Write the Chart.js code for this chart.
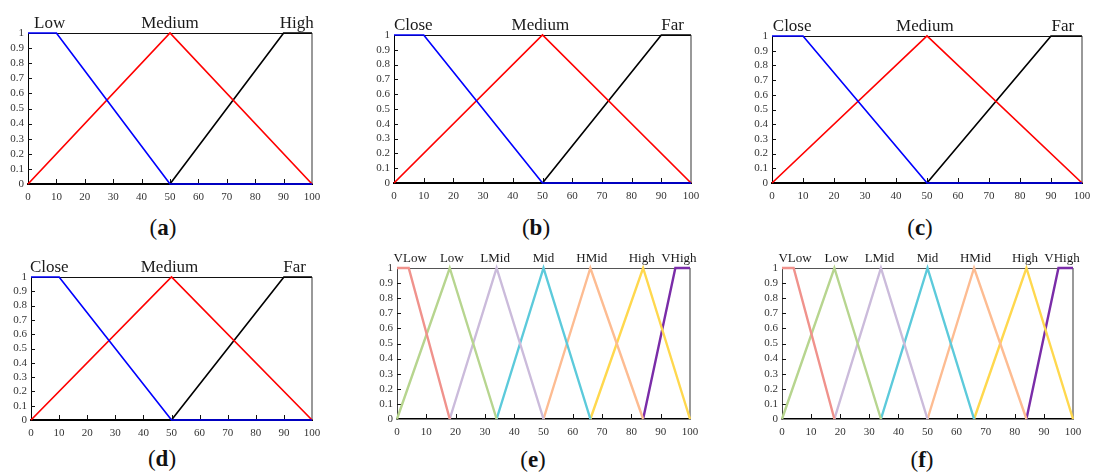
<!DOCTYPE html>
<html>
<head>
<meta charset="utf-8">
<script src="https://cdn.jsdelivr.net/npm/chart.js@4.4.0/dist/chart.umd.min.js"></script>
<style>
  html, body { margin: 0; padding: 0; background: #fff; overflow: hidden; }
  body { width: 1093px; height: 475px; position: relative; font-family: 'Liberation Serif', serif; }
  canvas { position: absolute; }
  .cap { position: absolute; font-size: 23px; color: #111; transform: translate(-50%, -50%); white-space: nowrap; }
</style>
</head>
<body>
<script>
// axis ticks
const xTicks = [0, 10, 20, 30, 40, 50, 60, 70, 80, 90, 100];
const yTicks = [0, 0.1, 0.2, 0.3, 0.4, 0.5, 0.6, 0.7, 0.8, 0.9, 1];

// three-set membership functions (a)-(d)
const lowX = [0, 10, 50, 100];
const lowY = [1, 1, 0, 0];
const medX = [0, 50, 100];
const medY = [0, 1, 0];
const highX = [0, 50, 90, 100];
const highY = [0, 0, 1, 1];

const names3a = ['Low', 'Medium', 'High'];
const names3b = ['Close', 'Medium', 'Far'];
const namePos3a = [7.6, 50, 94.6];
const namePos3b = [6.5, 49.3, 93.8];

// seven-set membership functions (e), (f)
const vlowX = [0, 4, 18];
const vlowY = [1, 1, 0];
const low7X = [0, 18, 34];
const low7Y = [0, 1, 0];
const lmidX = [18, 34, 50];
const lmidY = [0, 1, 0];
const midX = [34, 50, 66];
const midY = [0, 1, 0];
const hmidX = [50, 66, 84];
const hmidY = [0, 1, 0];
const high7X = [66, 84, 100];
const high7Y = [0, 1, 0];
const vhighX = [84, 95, 100];
const vhighY = [0, 1, 1];

const names7 = ['VLow', 'Low', 'LMid', 'Mid', 'HMid', 'High', 'VHigh'];
const namePos7 = [4.5, 18.7, 33.5, 50, 66.5, 83.5, 96.2];

const colors3 = ['#0000ff', '#ff0000', '#000000'];
const colors7 = ['#f0928c', '#b7d58f', '#cbbbdb', '#5ccadb', '#fdbc92', '#ffd84e', '#7a2ca8'];

function pts(xs, ys) { return xs.map((x, i) => ({ x, y: ys[i] })); }

const sets3 = [pts(lowX, lowY), pts(medX, medY), pts(highX, highY)];
const sets7 = [pts(vlowX, vlowY), pts(low7X, low7Y), pts(lmidX, lmidY), pts(midX, midY),
               pts(hmidX, hmidY), pts(high7X, high7Y), pts(vhighX, vhighY)];

// plot-area boxes in page pixels and caption centres
const panels = [
  { id: 'a', box: [28, 33, 312, 184], cap: [163, 228], sets: sets3, colors: colors3, names: names3a, pos: namePos3a, big: true },
  { id: 'b', box: [394, 35, 691, 183], cap: [536, 228], sets: sets3, colors: colors3, names: names3b, pos: namePos3b, big: true },
  { id: 'c', box: [772, 36, 1082, 183], cap: [920, 228], sets: sets3, colors: colors3, names: names3b, pos: namePos3b, big: true },
  { id: 'd', box: [31, 277, 312, 420], cap: [162, 459], sets: sets3, colors: colors3, names: names3b, pos: namePos3b, big: true },
  { id: 'e', box: [397, 268, 690, 419], cap: [533, 460], sets: sets7, colors: colors7, names: names7, pos: namePos7, big: false },
  { id: 'f', box: [782, 268, 1073, 419], cap: [922, 460], sets: sets7, colors: colors7, names: names7, pos: namePos7, big: false }
];

const PAD_L = 30, PAD_T = 30, PAD_R = 20, PAD_B = 25;
const FONT = "'Liberation Serif', serif";

const framePlugin = {
  id: 'frame',
  beforeDatasetsDraw(chart, args, opts) {
    const { ctx, chartArea: a, scales: { x, y } } = chart;
    ctx.save();
    ctx.lineWidth = 1;
    ctx.strokeStyle = opts.topColor;
    ctx.beginPath();
    ctx.moveTo(a.left, a.top + 0.5);
    ctx.lineTo(a.right, a.top + 0.5);
    ctx.stroke();
    ctx.lineWidth = 1.5;
    ctx.strokeStyle = '#777';
    ctx.beginPath();
    ctx.moveTo(a.right, a.top);
    ctx.lineTo(a.right, a.bottom);
    ctx.stroke();
    // inward tick marks
    ctx.lineWidth = 1;
    ctx.strokeStyle = '#111';
    ctx.beginPath();
    x.ticks.forEach(t => {
      if (t.value <= 0 || t.value >= 100) return;
      const px = Math.round(x.getPixelForValue(t.value)) + 0.5;
      ctx.moveTo(px, a.bottom);
      ctx.lineTo(px, a.bottom - 5);
    });
    y.ticks.forEach(t => {
      if (t.value <= 0 || t.value >= 1) return;
      const py = Math.round(y.getPixelForValue(t.value)) + 0.5;
      ctx.moveTo(a.left, py);
      ctx.lineTo(a.left + 4, py);
    });
    ctx.stroke();
    ctx.restore();
  },
  afterDraw(chart, args, opts) {
    const { ctx, chartArea: a, scales: { x } } = chart;
    ctx.save();
    ctx.fillStyle = '#1a1a1a';
    ctx.font = opts.size + 'px ' + FONT;
    ctx.textAlign = 'center';
    ctx.textBaseline = 'alphabetic';
    opts.names.forEach((n, i) => {
      ctx.fillText(n, x.getPixelForValue(opts.pos[i]), a.top - opts.gap);
    });
    ctx.restore();
  }
};

panels.forEach(p => {
  const [l, t, r, b] = p.box;
  const cv = document.createElement('canvas');
  cv.width = r - l + PAD_L + PAD_R;
  cv.height = b - t + PAD_T + PAD_B;
  cv.style.left = (l - PAD_L) + 'px';
  cv.style.top = (t - PAD_T) + 'px';
  document.body.appendChild(cv);

  const cap = document.createElement('div');
  cap.className = 'cap';
  cap.style.left = p.cap[0] + 'px';
  cap.style.top = p.cap[1] + 'px';
  cap.innerHTML = '(<b>' + p.id + '</b>)';
  document.body.appendChild(cap);

  new Chart(cv, {
    type: 'scatter',
    data: {
      datasets: p.sets.map((s, i) => ({
        data: s,
        showLine: true,
        clip: false,
        borderColor: p.colors[i],
        borderWidth: p.big ? 1.7 : 2.4,
        pointRadius: 0,
        tension: 0
      }))
    },
    options: {
      responsive: false,
      animation: false,
      events: [],
      layout: { padding: { left: 0, top: PAD_T, right: PAD_R, bottom: 0 } },
      plugins: {
        legend: { display: false },
        tooltip: { enabled: false },
        frame: {
          names: p.names,
          pos: p.pos,
          size: p.big ? 17 : 13,
          gap: p.big ? 5 : 6,
          topColor: p.big ? '#111' : '#555'
        }
      },
      scales: {
        x: {
          type: 'linear',
          min: 0,
          max: 100,
          afterBuildTicks: s => { s.ticks = xTicks.map(v => ({ value: v })); },
          afterFit: s => { s.height = PAD_B; },
          grid: { display: false, drawTicks: false },
          border: { display: true, color: '#000', width: p.big ? 2 : 1.5, z: -1 },
          ticks: { padding: 7, color: '#333', font: { family: FONT, size: 11 }, maxRotation: 0, autoSkip: false }
        },
        y: {
          type: 'linear',
          min: 0,
          max: 1,
          afterBuildTicks: s => { s.ticks = yTicks.map(v => ({ value: v })); },
          afterFit: s => { s.width = PAD_L; },
          grid: { display: false, drawTicks: false },
          border: { display: true, color: p.big ? '#000' : '#444', width: 1, z: -1 },
          ticks: {
            padding: 4,
            color: '#333',
            font: { family: FONT, size: 11 },
            autoSkip: false,
            callback: v => String(Number(v.toFixed(1)))
          }
        }
      }
    },
    plugins: [framePlugin]
  });
});
</script>
</body>
</html>
